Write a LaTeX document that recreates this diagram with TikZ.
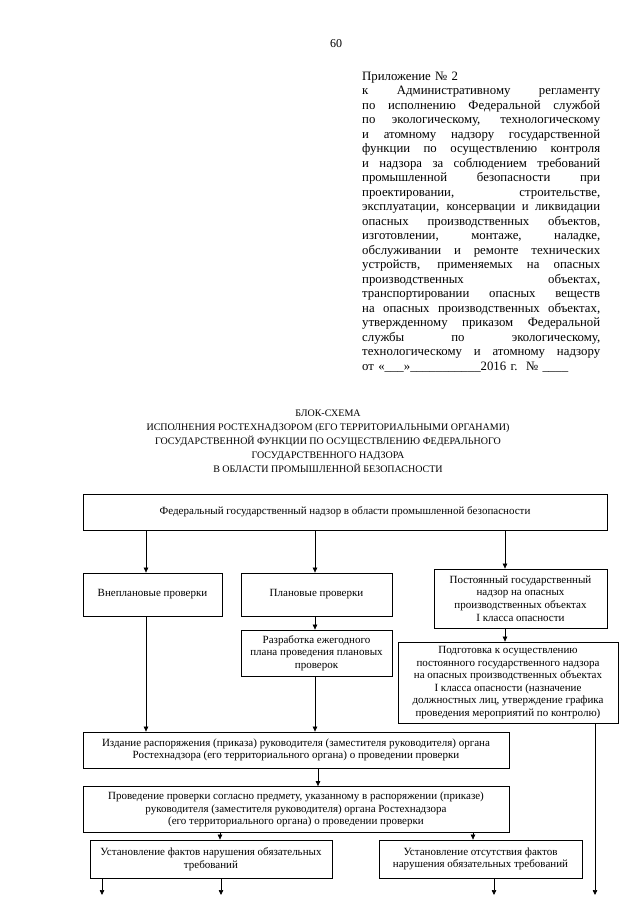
\documentclass[tikz,border=0pt]{standalone}
\usepackage{fontspec}
\setmainfont{Liberation Serif}
\usetikzlibrary{arrows.meta}
\newcommand{\jline}[1]{\leavevmode\hbox to 238pt{\spaceskip=2.8pt plus 60pt minus 1pt\relax #1}}
\begin{document}
\begin{tikzpicture}[x=1pt,y=-1pt,
  blk/.style={draw, line width=0.8pt, inner sep=0pt, align=center,
    font=\fontsize{11}{12.6}\selectfont},
  arr/.style={line width=0.7pt, -{Triangle[length=5pt,width=4.5pt]}},
  plain/.style={inner sep=0pt}]
\useasboundingbox (0,0) rectangle (640,905);
\fill[white] (0,0) rectangle (640,905);

\node[plain, font=\fontsize{12}{14}\selectfont] (pg) at (336,44) {60};

\node[plain, anchor=north west, text width=238pt, align=left,
  font=\fontsize{12.8}{14.5}\selectfont] (hdr) at (362,71.5) {%
Приложение № 2\\
\jline{к Административному регламенту}\\
\jline{по исполнению Федеральной службой}\\
\jline{по экологическому, технологическому}\\
\jline{и атомному надзору государственной}\\
\jline{функции по осуществлению контроля}\\
\jline{и надзора за соблюдением требований}\\
\jline{промышленной безопасности при}\\
\jline{проектировании, строительстве,}\\
\jline{эксплуатации, консервации и ликвидации}\\
\jline{опасных производственных объектов,}\\
\jline{изготовлении, монтаже, наладке,}\\
\jline{обслуживании и ремонте технических}\\
\jline{устройств, применяемых на опасных}\\
\jline{производственных объектах,}\\
\jline{транспортировании опасных веществ}\\
\jline{на опасных производственных объектах,}\\
\jline{утвержденному приказом Федеральной}\\
\jline{службы по экологическому,}\\
\jline{технологическому и атомному надзору}\\
от «\_\_\_»\_\_\_\_\_\_\_\_\_\_\_2016 г.\ \ № \_\_\_\_};

\node[plain, anchor=north, align=center, font=\fontsize{10}{14}\selectfont] (title) at (328,410) {%
БЛОК-СХЕМА\\
ИСПОЛНЕНИЯ РОСТЕХНАДЗОРОМ (ЕГО ТЕРРИТОРИАЛЬНЫМИ ОРГАНАМИ)\\
ГОСУДАРСТВЕННОЙ ФУНКЦИИ ПО ОСУЩЕСТВЛЕНИЮ ФЕДЕРАЛЬНОГО\\
ГОСУДАРСТВЕННОГО НАДЗОРА\\
В ОБЛАСТИ ПРОМЫШЛЕННОЙ БЕЗОПАСНОСТИ};

% boxes
\node[blk, minimum width=524pt, minimum height=36pt] (top) at (345,512)
  {Федеральный государственный надзор в области промышленной безопасности};
\node[blk, minimum width=139pt, minimum height=43pt] (vnepl) at (152.5,594.5)
  {Внеплановые проверки};
\node[blk, minimum width=151pt, minimum height=43pt] (plan) at (316.5,594.5)
  {Плановые проверки};
\node[blk, minimum width=173pt, minimum height=59pt] (post) at (520.5,598.5)
  {Постоянный государственный\\надзор на опасных\\производственных объектах\\I класса опасности};
\node[blk, minimum width=151pt, minimum height=46pt] (razr) at (316.5,653)
  {Разработка ежегодного\\плана проведения плановых\\проверок};
\node[blk, minimum width=220pt, minimum height=81pt] (podg) at (508,682.5)
  {Подготовка к осуществлению\\постоянного государственного надзора\\на опасных производственных объектах\\I класса опасности (назначение\\должностных лиц, утверждение графика\\проведения мероприятий по контролю)};
\node[blk, minimum width=426pt, minimum height=36pt] (izd) at (296,750)
  {Издание распоряжения (приказа) руководителя (заместителя руководителя) органа\\Ростехнадзора (его территориального органа) о проведении проверки};
\node[blk, minimum width=426pt, minimum height=46pt] (prov) at (296,809.5)
  {Проведение проверки согласно предмету, указанному в распоряжении (приказе)\\руководителя (заместителя руководителя) органа Ростехнадзора\\(его территориального органа) о проведении проверки};
\node[blk, minimum width=242pt, minimum height=38pt] (ust1) at (211,859)
  {Установление фактов нарушения обязательных\\требований};
\node[blk, minimum width=203pt, minimum height=38pt] (ust2) at (480.5,859)
  {Установление отсутствия фактов\\нарушения обязательных требований};

% guide coordinates
\coordinate (xa) at (146,0);
\coordinate (xb) at (315,0);
\coordinate (xc) at (505,0);
\coordinate (xd) at (318,0);
\coordinate (xe) at (220,0);
\coordinate (xf) at (473,0);
\coordinate (e1) at (102,895);
\coordinate (e2) at (221,895);
\coordinate (e3) at (494,895);
\coordinate (e4) at (595,895);

% connectors
\draw[arr] (top.south -| xa) -- (vnepl.north -| xa);
\draw[arr] (top.south -| xb) -- (plan.north -| xb);
\draw[arr] (top.south -| xc) -- (post.north -| xc);
\draw[arr] (plan.south -| xb) -- (razr.north -| xb);
\draw[arr] (post.south -| xc) -- (podg.north -| xc);
\draw[arr] (vnepl.south -| xa) -- (izd.north -| xa);
\draw[arr] (razr.south -| xb) -- (izd.north -| xb);
\draw[arr] (izd.south -| xd) -- (prov.north -| xd);
\draw[arr] (prov.south -| xe) -- (ust1.north -| xe);
\draw[arr] (prov.south -| xf) -- (ust2.north -| xf);
\draw[arr] (ust1.south -| e1) -- (e1);
\draw[arr] (ust1.south -| e2) -- (e2);
\draw[arr] (ust2.south -| e3) -- (e3);
\draw[arr] (podg.south -| e4) -- (e4);
\end{tikzpicture}
\end{document}
